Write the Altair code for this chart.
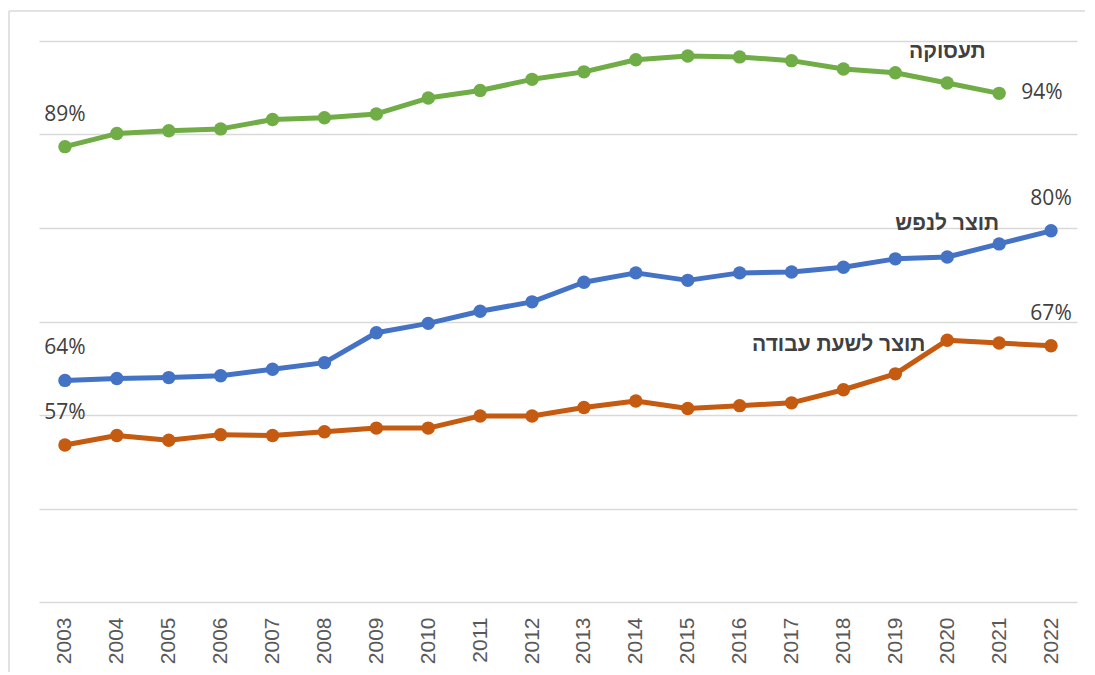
import altair as alt
import pandas as pd

years = list(range(2003, 2023))
employment = [88.7, 90.1, 90.4, 90.6, 91.6, 91.8, 92.2, 93.9, 94.7, 95.9,
              96.7, 98.0, 98.4, 98.3, 97.9, 97.0, 96.6, 95.5, 94.4, None]
gdp_per_capita = [63.7, 63.9, 64.0, 64.2, 64.9, 65.6, 68.8, 69.8, 71.1, 72.1,
                  74.2, 75.2, 74.4, 75.2, 75.3, 75.8, 76.7, 76.9, 78.3, 79.7]
gdp_per_hour = [56.8, 57.8, 57.3, 57.9, 57.8, 58.2, 58.6, 58.6, 59.9, 59.9,
                60.8, 61.5, 60.7, 61.0, 61.3, 62.7, 64.4, 68.0, 67.7, 67.4]

series_names = ["תעסוקה", "תוצר לנפש", "תוצר לשעת עבודה"]
series_colors = ["#70AD47", "#4472C4", "#C55A11"]
series_values = [employment, gdp_per_capita, gdp_per_hour]

# series-name annotations: (name, year, value)
name_years = [2020, 2020, 2019]
name_values = [98.8, 80.4, 67.5]

rows = []
for name, vals in zip(series_names, series_values):
    for y, v in zip(years, vals):
        if v is not None:
            rows.append({"year": y, "value": v, "series": name})
df = pd.DataFrame(rows)

# first / last labels
first_rows, last_right, last_above = [], [], []
for name, vals in zip(series_names, series_values):
    pts = [(y, v) for y, v in zip(years, vals) if v is not None]
    fy, fv = pts[0]
    ly, lv = pts[-1]
    first_rows.append({"year": fy, "value": fv, "label": f"{round(fv)}%"})
    if ly < years[-1]:
        last_right.append({"year": ly, "value": lv, "label": f"{round(lv)}%"})
    else:
        last_above.append({"year": ly, "value": lv, "label": f"{round(lv)}%"})
above_df = pd.DataFrame(first_rows + last_above)
right_df = pd.DataFrame(last_right)
names_df = pd.DataFrame({"year": name_years, "value": name_values, "label": series_names})

x_enc = alt.X("year:O", scale=alt.Scale(type="point", padding=0.5),
              axis=alt.Axis(title=None, labelAngle=-90, labelFontSize=21,
                            labelColor="#595959", labelFont="Liberation Sans",
                            ticks=False, domain=False, labelPadding=15, grid=False))
y_enc = alt.Y("value:Q", scale=alt.Scale(domain=[40, 100], nice=False, zero=False),
              axis=alt.Axis(title=None, labels=False, ticks=False, domain=False,
                            values=[40, 50, 60, 70, 80, 90, 100], grid=True,
                            gridColor="#d9d9d9", gridWidth=1.5))

color_enc = alt.Color("series:N", scale=alt.Scale(domain=series_names, range=series_colors),
                      legend=None)

lines = alt.Chart(df).mark_line(
    strokeWidth=5, strokeJoin="round",
    point=alt.OverlayMarkDef(size=180, filled=True, opacity=1)
).encode(x=x_enc, y=y_enc, color=color_enc, detail="series:N")

above = alt.Chart(above_df).mark_text(
    dy=-32, fontSize=21, font="Open Sans", color="#404040"
).encode(x="year:O", y="value:Q", text="label:N")

right = alt.Chart(right_df).mark_text(
    dx=22, align="left", fontSize=21, font="Open Sans", color="#404040"
).encode(x="year:O", y="value:Q", text="label:N")

names_center = alt.Chart(names_df[names_df["year"] == 2020]).mark_text(
    fontSize=21, fontWeight="bold", font="Liberation Sans", color="#404040"
).encode(x="year:O", y="value:Q", text="label:N")

names_right = alt.Chart(names_df[names_df["year"] != 2020]).mark_text(
    dx=30, align="right", fontSize=21, fontWeight="bold", font="Liberation Sans",
    color="#404040"
).encode(x="year:O", y="value:Q", text="label:N")

border_top = alt.Chart().mark_rule(color="#d9d9d9", strokeWidth=1.5).encode(
    x=alt.value(-30), x2=alt.value(1060), y=alt.value(-30))
border_left = alt.Chart().mark_rule(color="#d9d9d9", strokeWidth=1.5).encode(
    x=alt.value(-30), y=alt.value(-30), y2=alt.value(640))

chart = alt.layer(
    border_top, border_left, lines, above, right, names_center, names_right
).properties(
    width=1038, height=561,
    autosize=alt.AutoSizeParams(type="none"),
    padding={"left": 31, "top": 33, "right": 8, "bottom": 70},
).configure(
    background="white",
    view=alt.ViewConfig(stroke=None),
)

chart.save("out.html", embed_options={"renderer": "svg", "actions": False})
